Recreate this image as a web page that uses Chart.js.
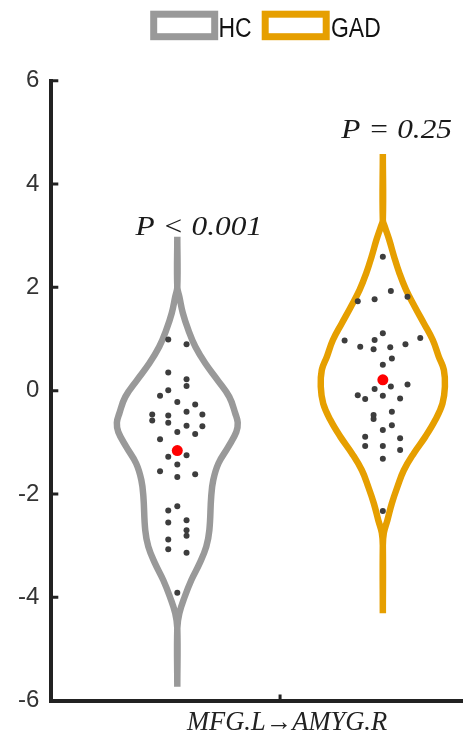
<!DOCTYPE html>
<html>
<head>
<meta charset="utf-8">
<script src="https://cdn.jsdelivr.net/npm/chart.js@4.4.1/dist/chart.umd.min.js"></script>
<style>
  html, body { margin: 0; padding: 0; background: #fff; }
  #wrap { width: 463px; height: 742px; position: relative; }
</style>
</head>
<body>
<div id="wrap"><canvas id="violinChart"></canvas></div>
<script>
// grupos y etiquetas
const groups = ['HC', 'GAD'];
const groupColors = ['#999999', '#E69F00'];
const pLabels = ['P < 0.001', 'P = 0.25'];
const xLabel = 'MFG.L\u2192AMYG.R';
const yTicks = [-6, -4, -2, 0, 2, 4, 6];

// puntos individuales (valor) y desplazamiento horizontal del enjambre
const hcValues = [0.99, 0.90, 0.35, 0.22, 0.09, 0.01, -0.10, -0.22, -0.27, -0.46, -0.58, -0.48,
  -0.62, -0.41, -0.46, -0.68, -0.69, -0.80, -0.84, -0.94, -1.28, -1.25, -1.43, -1.56, -1.67,
  -1.62, -2.24, -2.32, -2.55, -2.51, -2.70, -2.81, -2.88, -3.07, -3.14, -3.91];
const hcJitter = [-0.044, 0.045, -0.044, 0.045, 0.045, -0.044, -0.084, 0, 0.087, -0.122, -0.122, -0.044,
  -0.044, 0.045, 0.122, 0.045, 0.122, 0, 0.087, -0.084, -0.044, 0.045, 0, -0.084, 0,
  0.087, 0, -0.044, -0.044, 0.045, 0.045, 0.045, -0.044, -0.044, 0.045, 0];

const gadValues = [2.59, 1.93, 1.82, 1.73, 1.77, 1.11, 0.97, 0.85, 0.98, 0.80, 0.84, 0.90, 1.02,
  0.62, 0.50, 0.03, 0.08, 0.12, -0.09, -0.16, -0.10, -0.15, -0.41, -0.47, -0.55, -0.67, -0.76,
  -0.89, -0.92, -1.07, -1.07, -1.15, -1.32, -2.33];
const gadJitter = [0, 0.039, 0.120, -0.122, -0.040, 0, -0.186, -0.110, -0.040, -0.045, 0.036, 0.110, 0.182,
  0.044, 0, -0.040, 0.039, 0.120, -0.122, -0.086, 0, 0.084, 0.044, -0.045, -0.045, 0.044, 0,
  -0.086, 0.084, -0.086, 0, 0.084, 0, 0];

// medias
const means = [-1.16, 0.21];

// contorno del violin: niveles y media anchura (densidad)
const hcLevels  = [2.98, 2.00, 1.82, 1.50, 1.17, 0.85, 0.53, 0.21, -0.12, -0.44, -0.62, -0.80, -1.09,
  -1.41, -1.73, -2.05, -2.70, -3.02, -3.34, -3.67, -3.99, -4.31, -4.60, -5.73];
const hcDensity = [0, 0, 0.010, 0.027, 0.054, 0.088, 0.136, 0.195, 0.253, 0.282, 0.294, 0.287, 0.248,
  0.200, 0.175, 0.165, 0.156, 0.141, 0.109, 0.068, 0.036, 0.010, 0, 0];
const gadLevels  = [4.58, 3.30, 3.17, 2.92, 2.59, 2.27, 1.95, 1.62, 1.30, 0.98, 0.66, 0.40, 0.08,
  -0.25, -0.57, -0.89, -1.21, -1.54, -1.86, -2.18, -2.51, -2.75, -3.00, -4.31];
const gadDensity = [0, 0, 0.010, 0.031, 0.055, 0.081, 0.113, 0.156, 0.200, 0.243, 0.272, 0.297, 0.302,
  0.290, 0.255, 0.207, 0.151, 0.102, 0.071, 0.044, 0.022, 0.005, 0, 0];

function violinPath(center, levels, density) {
  const left = levels.map((v, i) => ({ x: center - density[i], y: v }));
  const right = levels.map((v, i) => ({ x: center + density[i], y: v })).reverse();
  return left.concat(right);
}

function swarm(center, values, jitter) {
  return values.map((v, i) => ({ x: center + jitter[i], y: v }));
}

// marcas de los ejes hacia dentro, etiquetas P y leyenda
const decorPlugin = {
  id: 'decor',
  afterDraw(chart) {
    const ctx = chart.ctx;
    const xs = chart.scales.x, ys = chart.scales.y;
    const left = chart.chartArea.left, bottom = chart.chartArea.bottom;
    ctx.save();
    ctx.strokeStyle = '#222';
    ctx.lineWidth = 3;
    ctx.beginPath();
    yTicks.forEach(t => {
      const py = ys.getPixelForValue(t);
      ctx.moveTo(left, py);
      ctx.lineTo(left + 7, py);
    });
    const px = xs.getPixelForValue(1.5);
    ctx.moveTo(px, bottom);
    ctx.lineTo(px, bottom - 6);
    ctx.stroke();

    // etiquetas P
    const anchors = [[1.105, 3.01], [2.067, 4.89]];
    ctx.font = 'italic 28px "Liberation Serif", "Times New Roman", serif';
    ctx.fillStyle = '#1a1a1a';
    ctx.textAlign = 'center';
    ctx.textBaseline = 'alphabetic';
    pLabels.forEach((txt, i) => {
      ctx.save();
      ctx.translate(xs.getPixelForValue(anchors[i][0]), ys.getPixelForValue(anchors[i][1]));
      ctx.scale(1.12, 1);
      ctx.fillText(txt, 0, 0);
      ctx.restore();
    });

    // leyenda
    const boxes = [[153.7, 218.5], [265.2, 331]];
    groups.forEach((g, i) => {
      ctx.lineWidth = 7;
      ctx.strokeStyle = groupColors[i];
      ctx.fillStyle = '#fff';
      ctx.fillRect(boxes[i][0], 14.2, 61, 22.5);
      ctx.strokeRect(boxes[i][0], 14.2, 61, 22.5);
      ctx.save();
      ctx.translate(boxes[i][1], 37);
      ctx.scale(0.85, 1);
      ctx.font = '27px "Liberation Sans", Arial, sans-serif';
      ctx.fillStyle = '#111';
      ctx.textAlign = 'left';
      ctx.fillText(g, 0, 0);
      ctx.restore();
    });
    ctx.restore();
  }
};

const ctx = document.getElementById('violinChart').getContext('2d');
const chart = new Chart(ctx, {
  type: 'scatter',
  data: {
    datasets: [
      {
        label: 'HC points',
        data: swarm(1, hcValues, hcJitter),
        backgroundColor: '#3d3d3d',
        borderWidth: 0,
        pointRadius: 3,
        order: 1
      },
      {
        label: 'GAD points',
        data: swarm(2, gadValues, gadJitter),
        backgroundColor: '#3d3d3d',
        borderWidth: 0,
        pointRadius: 3,
        order: 1
      },
      {
        label: 'mean',
        data: means.map((m, i) => ({ x: i + 1, y: m })),
        backgroundColor: '#ff0000',
        borderWidth: 0,
        pointRadius: 5.5,
        order: 0
      },
      {
        label: groups[0],
        data: violinPath(1, hcLevels, hcDensity),
        showLine: true,
        borderColor: groupColors[0],
        borderWidth: 6.5,
        pointRadius: 0,
        tension: 0.4,
        fill: false,
        order: 2
      },
      {
        label: groups[1],
        data: violinPath(2, gadLevels, gadDensity),
        showLine: true,
        borderColor: groupColors[1],
        borderWidth: 6.5,
        pointRadius: 0,
        tension: 0.4,
        fill: false,
        order: 2
      }
    ]
  },
  options: {
    responsive: true,
    maintainAspectRatio: false,
    animation: false,
    events: [],
    layout: { autoPadding: false, padding: { top: 80.7, left: 0, right: 0, bottom: 0 } },
    plugins: {
      legend: { display: false },
      tooltip: { enabled: false }
    },
    scales: {
      x: {
        type: 'linear',
        min: 0.387,
        max: 2.39,
        afterBuildTicks: axis => { axis.ticks = [{ value: 1.5 }]; },
        afterFit: axis => { axis.height = 41.4; },
        grid: { display: false, drawTicks: false },
        border: { display: true, width: 4, color: '#222' },
        ticks: {
          callback: () => xLabel,
          autoSkip: false,
          maxRotation: 0,
          padding: 7,
          labelOffset: 7,
          color: '#222',
          font: { family: '"Liberation Serif", "Times New Roman", serif', size: 26.5, style: 'italic' }
        }
      },
      y: {
        min: -6,
        max: 6,
        afterBuildTicks: axis => { axis.ticks = yTicks.map(v => ({ value: v })); },
        afterFit: axis => { axis.width = 51.3; },
        grid: { display: false, drawTicks: false },
        border: { display: true, width: 4, color: '#222' },
        ticks: {
          padding: 12,
          color: '#333',
          font: { family: '"Liberation Sans", Arial, sans-serif', size: 24 }
        }
      }
    }
  },
  plugins: [decorPlugin]
});
</script>
</body>
</html>
